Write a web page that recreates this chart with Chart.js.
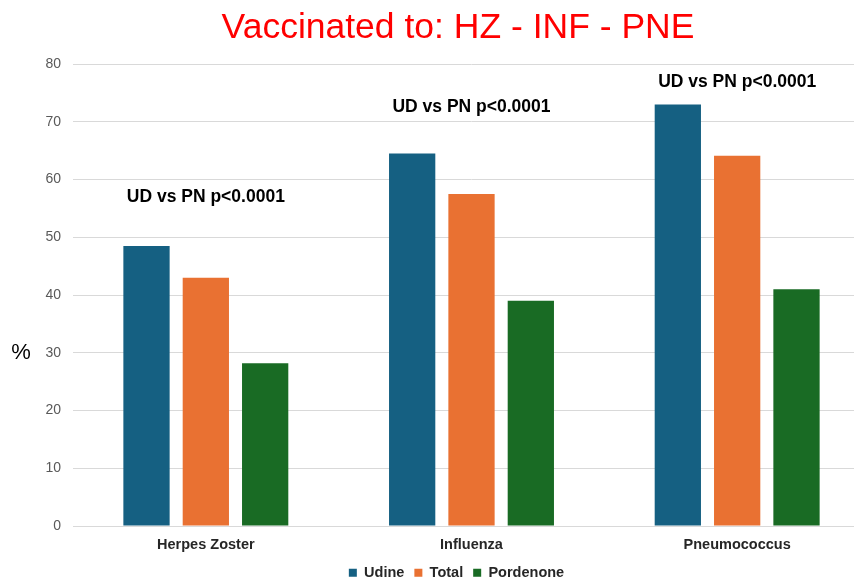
<!DOCTYPE html>
<html>
<head>
<meta charset="utf-8">
<script src="https://cdn.jsdelivr.net/npm/chart.js@4.4.1/dist/chart.umd.min.js"></script>
<style>
  html, body { margin: 0; padding: 0; background: #fff; overflow: hidden; }
  #wrap { width: 870px; height: 578px; }
</style>
</head>
<body>
<div id="wrap"><canvas id="c" width="870" height="578"></canvas></div>
<script>
const categories = ["Herpes Zoster", "Influenza", "Pneumococcus"];
const seriesNames = ["Udine", "Total", "Pordenone"];
const udine = [48.5, 64.5, 73.0];
const total = [43.0, 57.5, 64.1];
const pordenone = [28.2, 39.0, 41.0];
const yTicks = [0, 10, 20, 30, 40, 50, 60, 70, 80];
const notes = ["UD vs PN p<0.0001", "UD vs PN p<0.0001", "UD vs PN p<0.0001"];
const titleText = "Vaccinated to: HZ - INF - PNE";
const yLabel = "%";

const colors = ["#156082", "#E97132", "#196B24"];

const overlay = {
  id: 'overlay',
  afterDraw(chart, args, opts) {
    const ctx = chart.ctx;
    const xs = chart.scales.x, ys = chart.scales.y;
    ctx.save();
    // title
    ctx.fillStyle = '#FF0000';
    ctx.font = '35.5px "Liberation Sans", Arial, sans-serif';
    ctx.textAlign = 'center';
    ctx.textBaseline = 'middle';
    ctx.fillText(titleText, opts.titleX, opts.titleY);
    // notes
    ctx.fillStyle = '#000000';
    ctx.font = 'bold 17.5px "Liberation Sans", Arial, sans-serif';
    notes.forEach((t, i) => {
      ctx.fillText(t, xs.getPixelForValue(i), ys.getPixelForValue(opts.noteLevels[i]));
    });
    // y label
    ctx.font = '22px "Liberation Sans", Arial, sans-serif';
    ctx.fillText(yLabel, opts.yLabelX, opts.yLabelY);
    ctx.restore();
  }
};

new Chart(document.getElementById('c'), {
  type: 'bar',
  data: {
    labels: categories,
    datasets: [
      { label: seriesNames[0], data: udine, backgroundColor: colors[0] },
      { label: seriesNames[1], data: total, backgroundColor: colors[1] },
      { label: seriesNames[2], data: pordenone, backgroundColor: colors[2] }
    ]
  },
  options: {
    responsive: false,
    animation: false,
    devicePixelRatio: 1,
    categoryPercentage: 0.67,
    barPercentage: 0.78,
    layout: { padding: { left: 43, right: 0, top: 64, bottom: -12 } },
    scales: {
      x: {
        grid: { display: false },
        border: { color: '#D9D9D9' },
        ticks: {
          color: '#262626',
          font: { family: '"Liberation Sans", Arial, sans-serif', size: 14.5, weight: 'bold' },
          padding: 2
        }
      },
      y: {
        min: 0, max: 80,
        afterBuildTicks(axis) { axis.ticks = yTicks.map(v => ({ value: v })); },
        afterFit(axis) { axis.width = 30; },
        grid: { color: '#D9D9D9', drawTicks: false },
        border: { display: false },
        ticks: {
          color: '#595959',
          font: { family: '"Liberation Sans", Arial, sans-serif', size: 14 },
          padding: 12
        }
      }
    },
    plugins: {
      legend: {
        position: 'bottom',
        labels: {
          boxWidth: 8, boxHeight: 8,
          color: '#262626',
          font: { family: '"Liberation Sans", Arial, sans-serif', size: 14.5, weight: 'bold' },
          padding: 10
        }
      },
      title: { display: false },
      tooltip: { enabled: false },
      overlay: { titleX: 458, titleY: 28, yLabelX: 21, yLabelY: 353, noteLevels: [57, 72.6, 76.8] }
    }
  },
  plugins: [overlay]
});
</script>
</body>
</html>
